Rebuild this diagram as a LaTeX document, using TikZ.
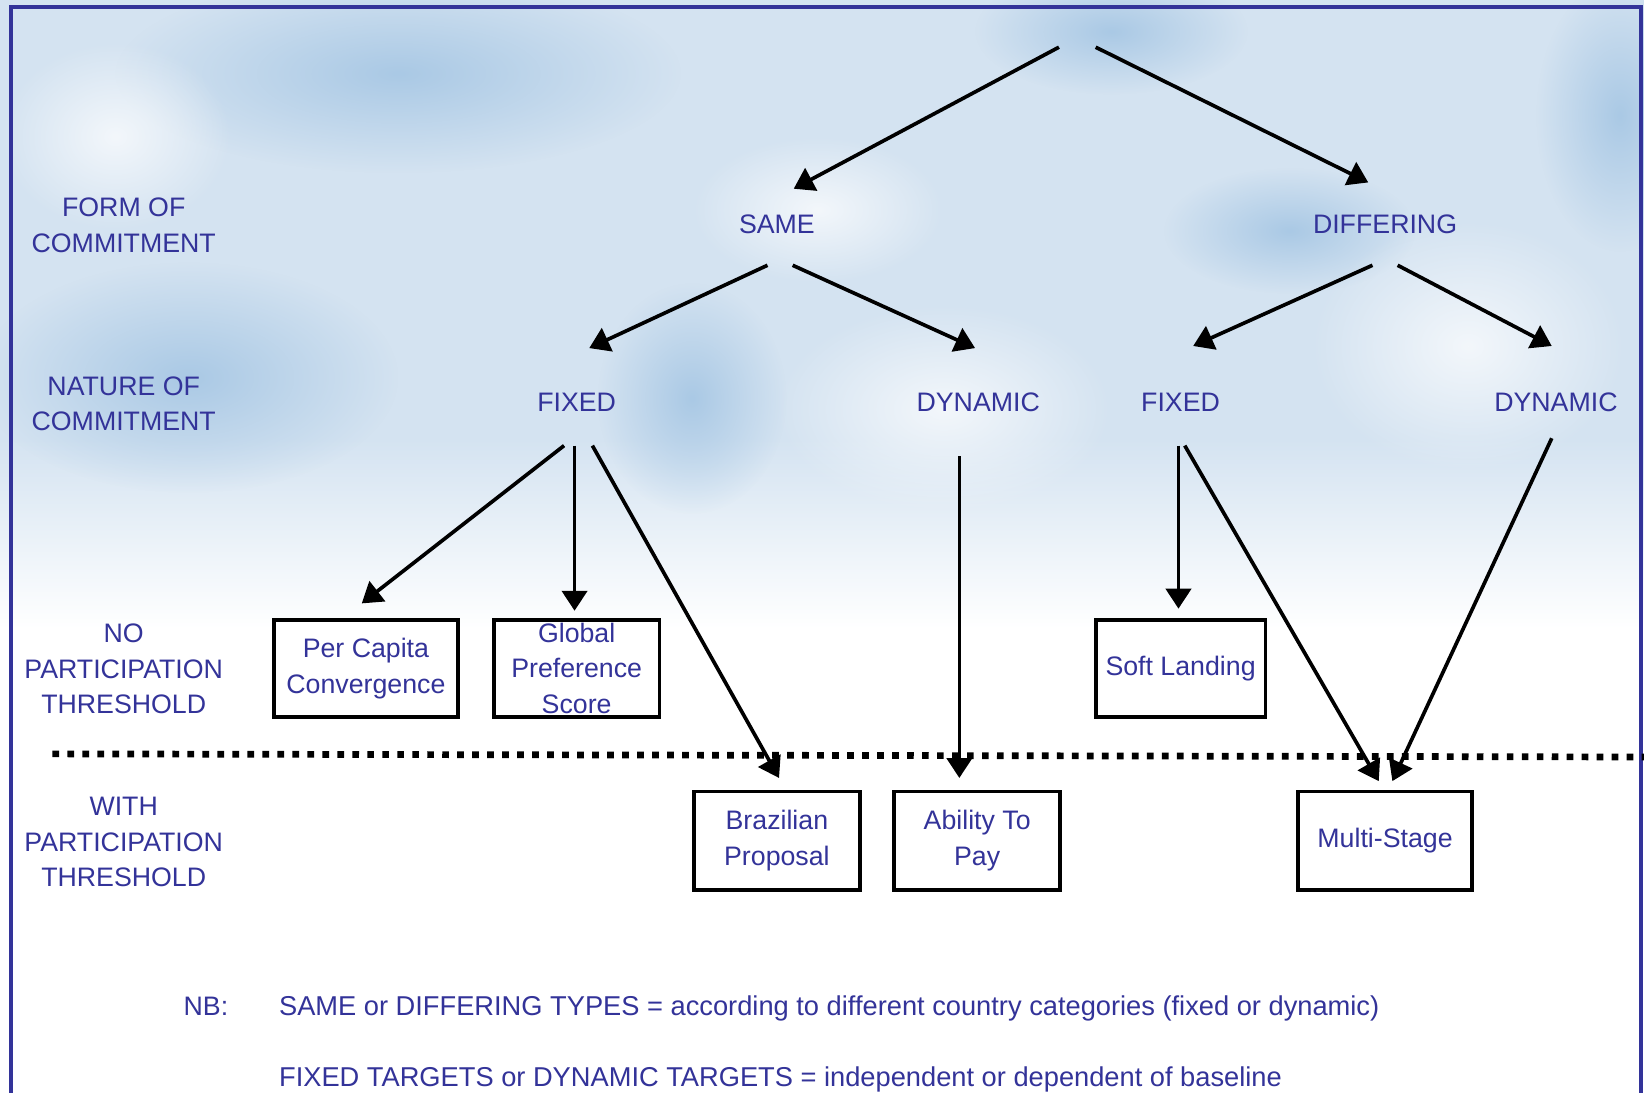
\documentclass[tikz,border=0pt]{standalone}
\usepackage{fontspec}
\setmainfont{Liberation Sans}
\usepackage{tikz}
\usetikzlibrary{arrows.meta,fadings}
\definecolor{navy}{RGB}{51,51,153}
\definecolor{skyA}{RGB}{212,227,241}
\definecolor{skyB}{RGB}{170,201,229}
\definecolor{skyC}{RGB}{243,247,251}
\tikzfading[name=puff, inner color=transparent!0, outer color=transparent!100]
\tikzset{
  lbl/.style = {align=center, inner sep=0pt, text=navy,
    font=\fontsize{25.5}{34}\selectfont},
  leaf/.style = {lbl, rectangle, draw=black, fill=white,
    line width=3.6pt},% scheme box
  arr/.style = {->, line width=3.5pt},
  dots/.style = {line width=6.4pt, dash pattern=on 6.4pt off 7.9pt}
}
\begin{document}
\begin{tikzpicture}[x=1pt,y=-1pt,>={Triangle[length=19pt,width=24pt]}]
  \useasboundingbox (0,0) rectangle (1568,1042);
  % sky background
  \fill[white] (0,0) rectangle (1568,1042);
  \fill[skyA] (0,0) rectangle (1568,420);
  \shade[top color=skyA, bottom color=white] (0,419) rectangle (1568,600);
  \foreach \cx/\cy/\rx/\ry/\c in {380/70/270/95/skyB, 1060/30/130/60/skyB,
      1545/110/80/130/skyB, 180/360/200/110/skyB, 660/380/90/110/skyB,
      1230/220/120/60/skyB, 110/130/110/90/skyC, 900/390/160/100/skyC,
      1400/330/150/120/skyC, 780/200/120/70/skyC}
    \fill[\c, path fading=puff] (\cx,\cy) ellipse ({\rx} and {\ry});
  % frame
  \draw[navy, line width=4pt] (10.5,1042) -- (10.5,6.5) -- (1565,6.5) -- (1565,1042);

  % threshold line
  \coordinate (dashL) at (50,719);
  \coordinate (dashR) at (1568,722);
  \draw[dots] (dashL) -- (dashR);

  % row captions
  \node[lbl] (rowForm) at (118,215) {FORM OF\\COMMITMENT};
  \node[lbl] (rowNature) at (118,385) {NATURE OF\\COMMITMENT};
  \node[lbl] (rowNo) at (118,638) {NO\\PARTICIPATION\\THRESHOLD};
  \node[lbl] (rowWith) at (118,803) {WITH\\PARTICIPATION\\THRESHOLD};

  % tree
  \coordinate (root) at (1027,40);
  \node[lbl] (same) at (741,214) {SAME};
  \node[lbl] (diff) at (1321,214) {DIFFERING};
  \node[lbl] (sfix) at (550,384) {FIXED};
  \node[lbl] (sdyn) at (933,384) {DYNAMIC};
  \node[lbl] (dfix) at (1126,384) {FIXED};
  \node[lbl] (ddyn) at (1484,384) {DYNAMIC};

  \node[leaf, minimum width=176pt, minimum height=93pt] (pcc) at (349,637.5) {Per Capita\\Convergence};
  \node[leaf, minimum width=158pt, minimum height=93pt] (gps) at (550,637.5) {Global\\Preference\\Score};
  \node[leaf, minimum width=162pt, minimum height=93pt] (soft) at (1126,637.5) {Soft Landing};
  \node[leaf, minimum width=158pt, minimum height=94pt] (braz) at (741,802) {Brazilian\\Proposal};
  \node[leaf, minimum width=158pt, minimum height=94pt] (atp) at (932,802) {Ability To\\Pay};
  \node[leaf, minimum width=166pt, minimum height=94pt] (multi) at (1321,802) {Multi-Stage};

  \foreach \a/\p/\b/\q in {root/{-17,5}/same/{16,-34}, root/{18,5}/diff/{-16,-40},
      same/{-9,39}/sfix/{12,-52}, same/{15,39}/sdyn/{-3,-52},
      diff/{-12,39}/dfix/{12,-54}, diff/{12,39}/ddyn/{-4,-54},
      sfix/{-12,41}/pcc/{-4,-62}, sfix/{-2,41}/gps/{-2,-55},
      sfix/{15,41}/braz/{2,-60}, sdyn/{-18,51}/atp/{-17,-60},
      dfix/{-2,41}/soft/{-2,-57}, dfix/{4,41}/multi/{-6,-57},
      ddyn/{-4,34}/multi/{7,-57}}
    \draw[arr] ([shift={(\p)}]\a.center) -- ([shift={(\q)}]\b.center);

  % note
  \node[lbl, anchor=base west] (nb) at (175,969) {NB:};
  \node[lbl, anchor=base west, font=\fontsize{26}{34}\selectfont] (nbSame) at (266,969) {SAME or DIFFERING TYPES = according to different country categories (fixed or dynamic)};
  \node[lbl, anchor=base west, font=\fontsize{26}{34}\selectfont] (nbFixed) at (266,1036) {FIXED TARGETS or DYNAMIC TARGETS = independent or dependent of baseline};
\end{tikzpicture}
\end{document}
